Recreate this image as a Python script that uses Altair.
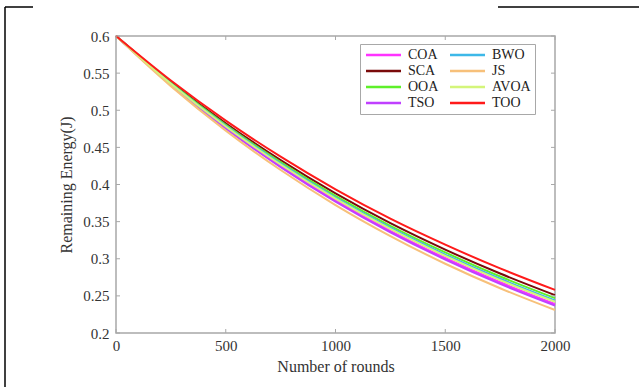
import altair as alt
import pandas as pd

rounds = [0, 250, 500, 750, 1000, 1250, 1500, 1750, 2000]
COA = [0.6, 0.5348, 0.4766, 0.4249, 0.3787, 0.3376, 0.3010, 0.2683, 0.239]
SCA = [0.6, 0.5380, 0.4825, 0.4328, 0.3880, 0.3479, 0.3123, 0.2801, 0.251]
OOA = [0.6, 0.5369, 0.4805, 0.4301, 0.3848, 0.3444, 0.3085, 0.2761, 0.247]
TSO = [0.6, 0.5342, 0.4755, 0.4235, 0.3770, 0.3357, 0.2990, 0.2662, 0.237]
BWO = [0.6, 0.5361, 0.4790, 0.4281, 0.3825, 0.3418, 0.3056, 0.2731, 0.244]
JS = [0.6, 0.5325, 0.4726, 0.4195, 0.3723, 0.3305, 0.2933, 0.2603, 0.231]
AVOA = [0.6, 0.5356, 0.4781, 0.4269, 0.3810, 0.3401, 0.3038, 0.2712, 0.242]
TOO = [0.6, 0.5400, 0.4860, 0.4375, 0.3935, 0.3540, 0.3190, 0.2870, 0.258]

names = ["COA", "SCA", "OOA", "TSO", "BWO", "JS", "AVOA", "TOO"]
series = [COA, SCA, OOA, TSO, BWO, JS, AVOA, TOO]
colors = ["#ff33ff", "#7a0a0a", "#5ef02a", "#c040ff", "#3db8e8", "#f7c07a", "#d4f57a", "#ff1a1a"]

x_ticks = [0, 500, 1000, 1500, 2000]
y_ticks = [0.2, 0.25, 0.3, 0.35, 0.4, 0.45, 0.5, 0.55, 0.6]

rows = []
for n, s in zip(names, series):
    for r, v in zip(rounds, s):
        rows.append({"alg": n, "round": r, "energy": v})
df = pd.DataFrame(rows)

W, H = 439, 297
FONT = "Liberation Serif"
GRAY = "#a8a8a8"

xs = alt.Scale(domain=[0, 2000], nice=False)
ys = alt.Scale(domain=[0.2, 0.6], nice=False)

X_AX = alt.Axis(values=x_ticks, title="Number of rounds", ticks=False, domain=False,
                grid=False, labelPadding=5, titlePadding=5, format="d",
                labelOverlap=False, labelFlush=False)
Y_AX = alt.Axis(values=y_ticks, title="Remaining Energy(J)", ticks=False, domain=False,
                grid=False, labelPadding=7, titlePadding=8, labelOverlap=False,
                labelFlush=False, labelExpr="format(datum.value, '.3~g')")

lines = alt.Chart(df).mark_line(strokeWidth=2, interpolate="monotone").encode(
    x=alt.X("round:Q", scale=xs, axis=X_AX),
    y=alt.Y("energy:Q", scale=ys, axis=Y_AX),
    color=alt.Color("alg:N", sort=names,
                    scale=alt.Scale(domain=names, range=colors),
                    legend=alt.Legend(title=None, orient="none", legendX=244, legendY=8,
                                      columns=2, symbolType="M-1,0H6", symbolSize=100,
                                      symbolStrokeWidth=2.5, labelFont=FONT, labelFontSize=14,
                                      labelOffset=30, labelColor="#222", rowPadding=2,
                                      columnPadding=6, strokeColor=GRAY, fillColor="white",
                                      padding=4, labelLimit=60)),
)

xt = pd.DataFrame({"t": x_ticks})
yt = pd.DataFrame({"t": y_ticks})
xb = alt.Chart(xt).mark_rule(color=GRAY, strokeWidth=1).encode(
    x=alt.X("t:Q", scale=xs, axis=X_AX), y=alt.value(H), y2=alt.value(H - 4))
xtp = alt.Chart(xt).mark_rule(color=GRAY, strokeWidth=1).encode(
    x=alt.X("t:Q", scale=xs, axis=X_AX), y=alt.value(0), y2=alt.value(4))
yl = alt.Chart(yt).mark_rule(color=GRAY, strokeWidth=1).encode(
    y=alt.Y("t:Q", scale=ys, axis=Y_AX), x=alt.value(0), x2=alt.value(4))
yr = alt.Chart(yt).mark_rule(color=GRAY, strokeWidth=1).encode(
    y=alt.Y("t:Q", scale=ys, axis=Y_AX), x=alt.value(W), x2=alt.value(W - 4))

frame_l = alt.Chart(xt.head(1)).mark_rule(color="black", strokeWidth=1.5).encode(
    x=alt.value(-111), y=alt.value(-29), y2=alt.value(360))
frame_t1 = alt.Chart(xt.head(1)).mark_rule(color="black", strokeWidth=1.5).encode(
    x=alt.value(-111), x2=alt.value(-83), y=alt.value(-29))
frame_t2 = alt.Chart(xt.head(1)).mark_rule(color="black", strokeWidth=1.5).encode(
    x=alt.value(382), x2=alt.value(523), y=alt.value(-29))

chart = alt.layer(lines, frame_l, frame_t1, frame_t2, xb, xtp, yl, yr).properties(
    width=W, height=H,
    autosize=alt.AutoSizeParams(type="none"),
    padding={"left": 116, "top": 36, "right": 84, "bottom": 54},
).configure(background="white").configure_view(stroke=GRAY, strokeWidth=1.5).configure_axis(
    labelFont=FONT, titleFont=FONT, labelFontSize=15, titleFontSize=16,
    labelColor="#333", titleColor="#333", titleFontWeight="normal",
)

chart.save("out.html", embed_options={"renderer": "svg", "actions": False})
